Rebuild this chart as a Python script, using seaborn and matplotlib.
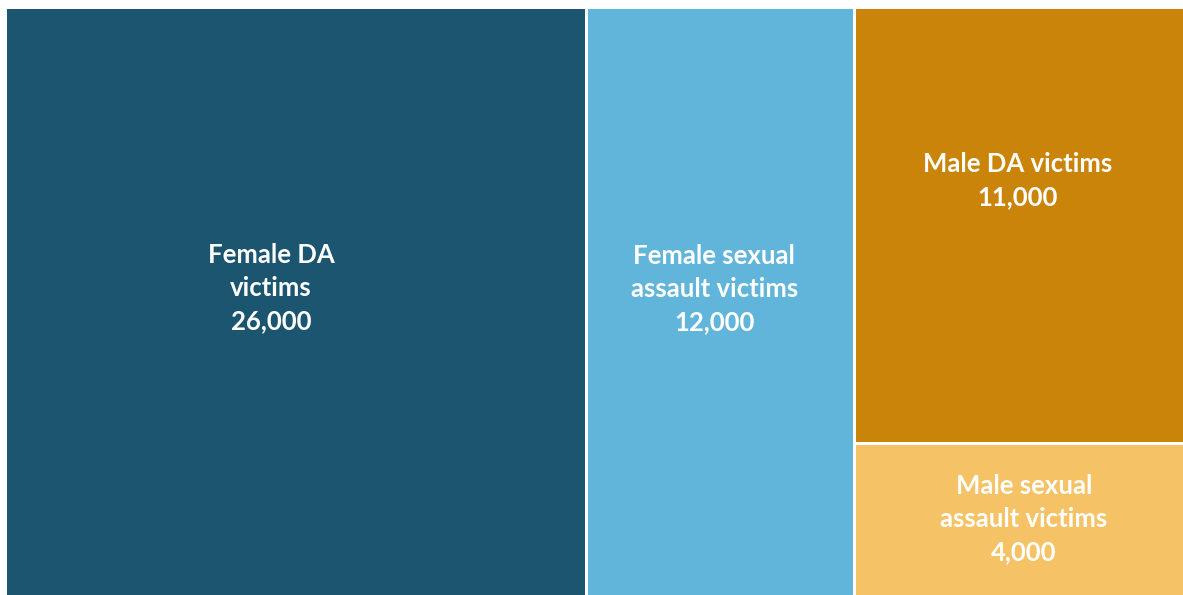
import matplotlib.pyplot as plt
import matplotlib.patches as mpatches
import seaborn as sns

# treemap data
labels = ["Female DA\nvictims", "Female sexual\nassault victims", "Male DA victims", "Male sexual\nassault victims"]
values = [26000, 12000, 11000, 4000]
groups = ["Female DA", "Female SA", "Male", "Male"]
colors = ["#1B5570", "#62B5DA", "#CB840A", "#F6C266"]

# label nudges in pixels (dx, dy), to match where Excel put them
nudges = [(-25, 17), (-6, 16), (-4, 45), (2, 4)]

sns.set_theme(style="white")
plt.rcParams['font.family'] = ['Lato', 'DejaVu Sans']

W, H = 1184, 594.5
fig = plt.figure(figsize=(11.83, 5.95), dpi=100)
ax = fig.add_axes([5.5 / 1183, 1 - (7.5 + H) / 595, W / 1183, H / 595])
ax.set_xlim(0, 1)
ax.set_ylim(0, 1)
ax.axis("off")

# columns: one per group, stacked vertically inside
total = sum(values)
order = []
for g in groups:
    if g not in order:
        order.append(g)

gap = 1.5
x0 = 0.0
for g in order:
    idx = [i for i, gg in enumerate(groups) if gg == g]
    gsum = sum(values[i] for i in idx)
    w = gsum / total
    y_top = 1.0
    for i in idx:
        h = values[i] / gsum
        rect = mpatches.Rectangle((x0 + gap / W, y_top - h + gap / H), w - 2 * gap / W, h - 2 * gap / H,
                                  facecolor=colors[i], edgecolor="none")
        ax.add_patch(rect)
        dx, dy = nudges[i]
        cx = x0 + w / 2 + dx / W
        cy = y_top - h / 2 + dy / H
        ax.text(cx, cy, f"{labels[i]}\n{values[i]:,}", ha="center", va="center",
                color="white", fontsize=18.5, fontweight="bold", linespacing=1.45)
        y_top -= h
    x0 += w

fig.savefig("out.png", dpi=100)
